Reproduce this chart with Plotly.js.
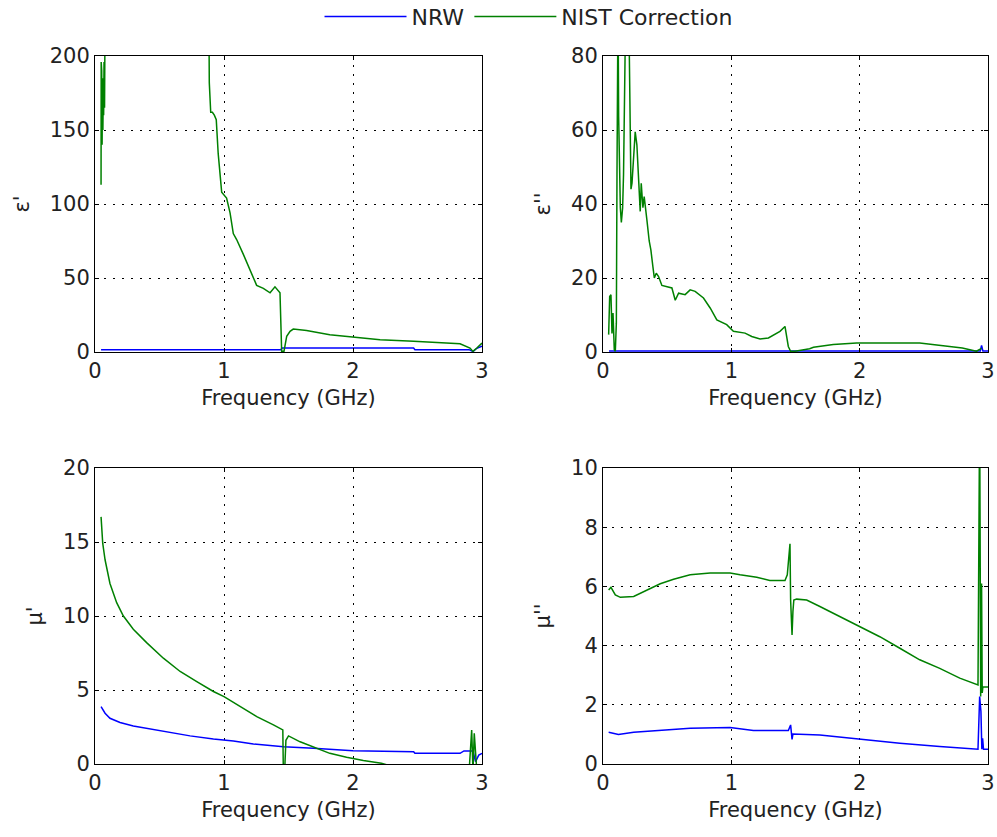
<!DOCTYPE html>
<html>
<head>
<meta charset="utf-8">
<script src="https://cdn.plot.ly/plotly-3.0.1.min.js"></script>
<style>html,body{margin:0;padding:0;background:#fff;}#chart{width:997px;height:837px;}</style>
</head>
<body>
<div id="chart"></div>
<script>
// ---------- Data (frequency in GHz) ----------
// ε' (real permittivity)
const epsR_nrw_f = [0.047, 0.5, 1.0, 1.44, 1.45, 2.0, 2.47, 2.48, 2.9, 2.93, 2.96, 3.0];
const epsR_nrw   = [1.6, 1.6, 1.6, 1.6, 2.7, 2.7, 2.7, 1.6, 1.6, 0.3, 2.5, 4.0];
const epsR_nist_f = [0.047, 0.048, 0.050, 0.052, 0.055, 0.058, 0.061, 0.064, 0.067, 0.070, 0.074, 0.078, 0.2, 0.4, 0.6, 0.8, 0.884,
  0.886, 0.897, 0.91, 0.925, 0.94, 0.955, 0.969, 0.982, 1.02, 1.047, 1.072, 1.098, 1.15, 1.2, 1.253, 1.305, 1.357, 1.395, 1.434,
  1.447, 1.465, 1.486, 1.512, 1.537, 1.64, 1.82, 1.95, 2.21, 2.47, 2.73, 2.83, 2.907, 2.93, 2.96, 3.0];
const epsR_nist = [113, 196, 150, 190, 140, 185, 150, 175, 160, 196, 165, 230, 500, 700, 600, 400, 210,
  182, 162, 162, 160, 157, 134, 121, 108, 104, 94, 80, 76, 66, 55.5, 45, 43, 40, 44, 40,
  0.5, 0.5, 10.6, 14, 15.5, 14.6, 11.7, 10.6, 8.3, 7.2, 6.0, 5.6, 2.7, 0.4, 2.7, 6.0];

// ε'' (imaginary permittivity)
const epsI_nrw_f = [0.047, 1.0, 2.0, 2.94, 2.95, 2.96, 3.0];
const epsI_nrw   = [0.3, 0.3, 0.3, 0.3, 1.8, 0.3, 0.3];
const epsI_nist_f = [0.044, 0.052, 0.062, 0.07, 0.078, 0.088, 0.096, 0.104, 0.109, 0.117, 0.122, 0.127, 0.135, 0.143, 0.153, 0.160,
  0.170, 0.187, 0.200, 0.212, 0.218, 0.226, 0.239, 0.251, 0.264, 0.277, 0.290, 0.298, 0.311, 0.321, 0.332, 0.342, 0.360,
  0.373, 0.389, 0.400, 0.415, 0.433, 0.459, 0.485, 0.537, 0.563, 0.589, 0.640, 0.679, 0.718, 0.783, 0.835, 0.887, 0.964,
  1.016, 1.107, 1.159, 1.224, 1.289, 1.379, 1.418, 1.444, 1.462, 1.496, 1.61, 1.64, 1.794, 1.976, 2.468, 2.8, 2.91, 2.95, 2.99];
const epsI_nist = [4.7, 15, 15.5, 5, 10.5, 0.6, 0.2, 7.8, 48, 95, 63.5, 48, 39, 35, 39, 48,
  90, 120, 95, 48, 44, 45.6, 53.7, 59.5, 56, 46.5, 38, 45.6, 39, 42, 37.5, 35.7, 30,
  27.6, 23, 20, 21.3, 20.4, 18, 17.7, 17.3, 14, 15.9, 15.5, 16.8, 16.4, 14.6, 11.9, 8.7,
  7.4, 5.6, 5.1, 4.2, 3.5, 3.8, 5.6, 6.9, 1.5, 0.2, 0.2, 0.9, 1.3, 2.0, 2.4, 2.4, 1.1, 0.2, 1.0];

// μ' (real permeability)
const muR_nrw_f = [0.047, 0.078, 0.116, 0.194, 0.297, 0.4, 0.556, 0.737, 0.918, 1.073, 1.228, 1.461, 1.694, 2.0, 2.47, 2.48,
  2.83, 2.86, 2.93, 2.95, 2.975, 3.0];
const muR_nrw = [3.88, 3.43, 3.09, 2.8, 2.57, 2.41, 2.19, 1.9, 1.69, 1.56, 1.35, 1.17, 1.06, 0.9, 0.83, 0.72,
  0.72, 0.88, 0.88, 0.16, 0.6, 0.72];
const muR_nist_f = [0.047, 0.06, 0.078, 0.116, 0.168, 0.22, 0.297, 0.4, 0.53, 0.66, 0.789, 0.918, 1.0, 1.125, 1.254, 1.383,
  1.456, 1.460, 1.470, 1.48, 1.5, 1.59, 1.69, 1.82, 1.95, 2.08, 2.22, 2.4, 2.7, 2.9, 2.92, 2.93, 2.94, 2.96, 3.0];
const muR_nist = [16.7, 14.9, 13.8, 12.2, 10.9, 10.0, 9.1, 8.2, 7.15, 6.25, 5.57, 4.9, 4.55, 3.88, 3.2, 2.64,
  2.3, -0.5, -0.5, 1.6, 1.9, 1.5, 1.17, 0.72, 0.45, 0.23, 0.05, -0.4, -0.8, -0.5, 2.3, -0.5, 2.07, -0.5, -0.8];

// μ'' (imaginary permeability)
const muI_nrw_f = [0.044, 0.12, 0.239, 0.42, 0.679, 0.99, 1.172, 1.444, 1.462, 1.473, 1.48, 1.69, 1.898, 2.053, 2.313, 2.624,
  2.922, 2.935, 2.945, 2.952, 2.958, 2.965, 3.0];
const muI_nrw = [1.07, 1.0, 1.07, 1.13, 1.21, 1.23, 1.13, 1.13, 1.32, 0.83, 1.01, 0.98, 0.89, 0.81, 0.7, 0.59,
  0.5, 2.28, 1.77, 0.5, 0.87, 0.5, 0.5];
const muI_nist_f = [0.044, 0.062, 0.096, 0.135, 0.239, 0.342, 0.446, 0.55, 0.679, 0.835, 0.99, 1.068, 1.198, 1.3, 1.418,
  1.436, 1.446, 1.457, 1.462, 1.473, 1.48, 1.487, 1.509, 1.587, 1.69, 1.846, 1.996, 2.157, 2.313, 2.468, 2.624, 2.78, 2.922,
  2.935, 2.943, 2.950, 2.955, 2.960, 3.0];
const muI_nist = [5.88, 5.97, 5.71, 5.63, 5.66, 5.88, 6.09, 6.24, 6.39, 6.45, 6.45, 6.39, 6.31, 6.2, 6.2,
  6.39, 7.0, 7.44, 5.54, 4.36, 5.15, 5.54, 5.57, 5.54, 5.32, 4.98, 4.67, 4.3, 3.91, 3.52, 3.23, 2.9, 2.67,
  12.0, 2.28, 6.1, 2.4, 2.6, 2.6];

const xTicks = [0, 1, 2, 3];
const xTickText = ['0', '1', '2', '3'];
const yTicks = {
  y1: [0, 50, 100, 150, 200],
  y2: [0, 20, 40, 60, 80],
  y3: [0, 5, 10, 15, 20],
  y4: [0, 2, 4, 6, 8, 10]
};
const yRanges = { y1: [0, 200], y2: [0, 80], y3: [0, 20], y4: [0, 10] };
const yTitles = { y1: "ε'", y2: "ε''", y3: "μ'", y4: "μ''" };
const xTitle = 'Frequency (GHz)';
const seriesNames = ['NRW', 'NIST Correction'];
const seriesColors = ['#0000ff', '#008000'];

// ---------- Traces ----------
function tr(x, y, i, xa, ya, show) {
  return {x: x, y: y, type: 'scatter', mode: 'lines', name: seriesNames[i],
    line: {color: seriesColors[i], width: 1.5}, xaxis: xa, yaxis: ya, showlegend: show, hoverinfo: 'skip'};
}
const data = [
  tr(epsR_nrw_f, epsR_nrw, 0, 'x', 'y', true),
  tr(epsR_nist_f, epsR_nist, 1, 'x', 'y', true),
  tr(epsI_nrw_f, epsI_nrw, 0, 'x2', 'y2', false),
  tr(epsI_nist_f, epsI_nist, 1, 'x2', 'y2', false),
  tr(muR_nrw_f, muR_nrw, 0, 'x3', 'y3', false),
  tr(muR_nist_f, muR_nist, 1, 'x3', 'y3', false),
  tr(muI_nrw_f, muI_nrw, 0, 'x4', 'y4', false),
  tr(muI_nist_f, muI_nist, 1, 'x4', 'y4', false)
];

// ---------- Layout ----------
const W = 997, H = 837;
const font = {family: 'DejaVu Sans, Arial, sans-serif', size: 20, color: '#222'};
const colL = [95 / W, 482 / W], colR = [603 / W, 988 / W];
const rowT = [1 - 352 / H, 1 - 56 / H], rowB = [1 - 764 / H, 1 - 468 / H];

function xax(dom, anchor) {
  return {domain: dom, anchor: anchor, range: [0, 3], tickvals: xTicks, ticktext: xTickText,
    showline: true, linecolor: '#000', linewidth: 1, mirror: 'ticks', ticks: 'inside', ticklen: 4,
    tickcolor: '#000', showgrid: true, gridcolor: '#000', gridwidth: 1, griddash: '2px,7px',
    zeroline: false, title: {text: xTitle, font: {size: 21}, standoff: 8}, tickfont: {size: 21}, fixedrange: true};
}
function yax(key, dom, anchor) {
  return {domain: dom, anchor: anchor, range: yRanges[key], tickvals: yTicks[key],
    showline: true, linecolor: '#000', linewidth: 1, mirror: 'ticks', ticks: 'inside', ticklen: 4,
    tickcolor: '#000', showgrid: true, gridcolor: '#000', gridwidth: 1, griddash: '2px,7px',
    zeroline: false, title: {text: yTitles[key], font: {size: 21}, standoff: 14}, tickfont: {size: 21}, fixedrange: true};
}

const layout = {
  width: W, height: H,
  margin: {l: 0, r: 0, t: 0, b: 0, autoexpand: false},
  paper_bgcolor: '#fff', plot_bgcolor: '#fff',
  font: font,
  showlegend: true,
  legend: {orientation: 'h', x: 0.5306, xanchor: 'center', y: 1.005, yanchor: 'top',
    font: {size: 22}, bgcolor: 'rgba(0,0,0,0)', itemwidth: 82},
  xaxis: xax(colL, 'y'), yaxis: yax('y1', rowT, 'x'),
  xaxis2: xax(colR, 'y2'), yaxis2: yax('y2', rowT, 'x2'),
  xaxis3: xax(colL, 'y3'), yaxis3: yax('y3', rowB, 'x3'),
  xaxis4: xax(colR, 'y4'), yaxis4: yax('y4', rowB, 'x4')
};

Plotly.newPlot('chart', data, layout, {displayModeBar: false, staticPlot: true});
</script>
</body>
</html>
